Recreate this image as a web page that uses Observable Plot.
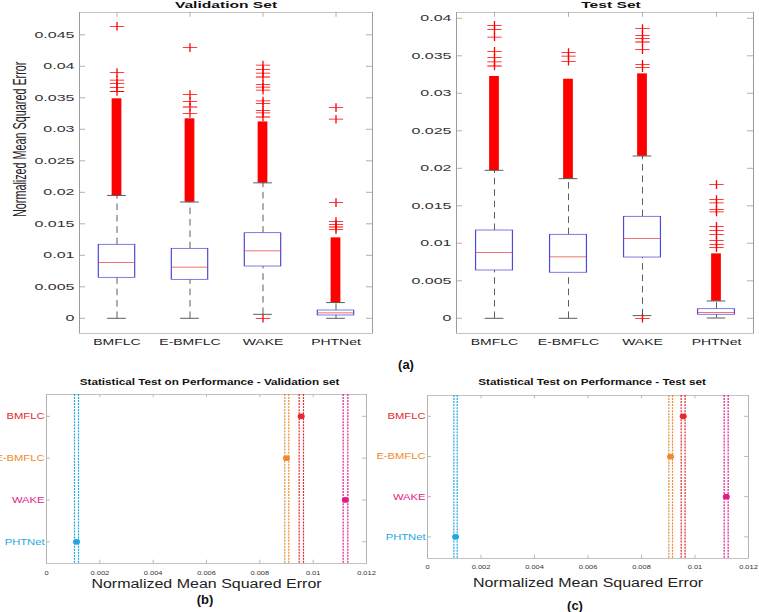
<!DOCTYPE html>
<html><head><meta charset="utf-8">
<script src="https://cdn.jsdelivr.net/npm/d3@7"></script>
<script src="https://cdn.jsdelivr.net/npm/@observablehq/plot@0.6"></script>
<style>
body{margin:0;background:#fff;}
#root{position:relative;width:759px;height:612px;overflow:hidden;background:#fff;font-family:"Liberation Sans",Arial,sans-serif;}
.panel{position:absolute;}
.panel svg{transform-origin:0 0;display:block;background:transparent;overflow:visible;}
.cap{position:absolute;font-weight:bold;font-size:13px;line-height:13px;color:#111;transform:translate(-50%,-50%);white-space:nowrap;}
</style></head><body><div id="root"></div><script>
// ---------- data ----------
const cats = ["BMFLC", "E-BMFLC", "WAKE", "PHTNet"];
const catColors = ["#e8262d", "#f08a2e", "#e21a8a", "#1ea7e1"];
const yLabelText = "Normalized Mean Squared Error";

// Validation set box plots
const valQ1 = [0.00646, 0.00614, 0.00825, 0.00048];
const valMedian = [0.00884, 0.00814, 0.01069, 0.00085];
const valQ3 = [0.0117, 0.01106, 0.01354, 0.00127];
const valWhiskerLo = [0, 0, 0.00063, 0];
const valWhiskerHi = [0.0195, 0.01846, 0.0215, 0.0025];
const valDenseTop = [0.03487, 0.0317, 0.0312, 0.0128];
const valOutliersBMFLC = [0.036, 0.0366, 0.03725, 0.0378, 0.039, 0.04635];
const valOutliersEBMFLC = [0.0325, 0.03354, 0.03444, 0.0355, 0.04296];
const valOutliersWAKE = [0, 0.03195, 0.0326, 0.033, 0.0341, 0.0345, 0.0362, 0.0367, 0.0371, 0.0383, 0.0389, 0.0395, 0.0402];
const valOutliersPHTNet = [0.01408, 0.01449, 0.01492, 0.01535, 0.01836, 0.0316, 0.03344];
const valYTicks = [0, 0.005, 0.01, 0.015, 0.02, 0.025, 0.03, 0.035, 0.04, 0.045];

// Test set box plots
const testQ1 = [0.0064, 0.0061, 0.00813, 0.0005];
const testMedian = [0.00876, 0.00818, 0.01062, 0.0008];
const testQ3 = [0.01173, 0.01116, 0.01356, 0.00124];
const testWhiskerLo = [0, 0, 0.00036, 0.00004];
const testWhiskerHi = [0.01973, 0.01862, 0.02164, 0.00231];
const testDenseTop = [0.03227, 0.0319, 0.03262, 0.00862];
const testOutliersBMFLC = [0.03364, 0.03418, 0.03476, 0.0356, 0.0375, 0.03853, 0.03905];
const testOutliersEBMFLC = [0.03427, 0.03497, 0.03542];
const testOutliersWAKE = [0, 0.03342, 0.03387, 0.03582, 0.03684, 0.0373, 0.03773, 0.03862];
const testOutliersPHTNet = [0.00943, 0.00987, 0.0104, 0.01116, 0.01173, 0.01227, 0.01418, 0.0145, 0.01538, 0.01582, 0.01782];
const testYTicks = [0, 0.005, 0.01, 0.015, 0.02, 0.025, 0.03, 0.035, 0.04];

// Statistical test (group means with comparison intervals)
const valMean = [0.00955, 0.009, 0.01121, 0.001125];
const valCILo = [0.009475, 0.008936, 0.011125, 0.00105];
const valCIHi = [0.009637, 0.009086, 0.0113, 0.0012];
const testMean = [0.00956, 0.009085, 0.01117, 0.00105];
const testCILo = [0.009484, 0.009023, 0.01109, 0.000987];
const testCIHi = [0.00963, 0.00916, 0.01124, 0.00111];
const statXTicks = [0, 0.002, 0.004, 0.006, 0.008, 0.01, 0.012];

// ---------- helpers ----------
const root = document.getElementById("root");
const fmt = d => String(+d.toFixed(4));
const font = "'Liberation Sans', Arial, Helvetica, sans-serif";

function addPanel(svg, left, top, width, s) {
  const d = document.createElement("div");
  d.className = "panel";
  d.style.left = left + "px";
  d.style.top = top + "px";
  d.style.width = width + "px";
  svg.style.transform = `scaleY(${s})`;
  d.appendChild(svg);
  root.appendChild(d);
}
function addCaption(text, x, y) {
  const d = document.createElement("div");
  d.className = "cap";
  d.textContent = text;
  d.style.left = x + "px";
  d.style.top = y + "px";
  root.appendChild(d);
}

function boxPlot({q1, med, q3, wlo, whi, dense, outs, yDomain, yTicks, title, width, marginLeft, marginRight, titleDx, yLabel}) {
  const s = 0.6, Hf = 360, Hu = Hf / s;
  const mt = 12 / s, mb = (Hf - 333) / s;
  const innerW = width - marginLeft - marginRight, innerH = Hu - mt - mb;
  const bw = innerW / 4;
  const rows = cats.map((c, i) => ({cat: c, q1: q1[i], med: med[i], q3: q3[i], lo: wlo[i], hi: whi[i], dense: dense[i]}));
  const outRows = cats.flatMap((c, i) => outs[i].map(v => ({cat: c, v})));
  const marks = [
    Plot.frame({stroke: "#9c9c9c"}),
    Plot.ruleY(yTicks, {y: d => d, insetRight: innerW - 6, stroke: "#9c9c9c"}),
    Plot.ruleY(yTicks, {y: d => d, insetLeft: innerW - 6, stroke: "#9c9c9c"}),
    Plot.ruleX(cats, {x: d => d, insetBottom: innerH - 8, stroke: "#9c9c9c"}),
    Plot.axisY(yTicks, {tickSize: 0, tickPadding: 5, tickFormat: fmt, fontSize: 16, color: "#333", label: null}),
    Plot.axisX({tickSize: 0, tickPadding: 10, fontSize: 14, color: "#222", label: null}),
    Plot.ruleX(rows, {x: "cat", y1: "q3", y2: "hi", stroke: "#333", strokeDasharray: "11,8"}),
    Plot.ruleX(rows, {x: "cat", y1: "lo", y2: "q1", stroke: "#333", strokeDasharray: "11,8"}),
    Plot.barY(rows, {x: "cat", y1: "hi", y2: "dense", insetLeft: (bw - 10) / 2, insetRight: (bw - 10) / 2, fill: "#ff0000"}),
    Plot.tickY(rows, {x: "cat", y: "hi", insetLeft: (bw - 19) / 2, insetRight: (bw - 19) / 2, stroke: "#333"}),
    Plot.tickY(rows, {x: "cat", y: "lo", insetLeft: (bw - 19) / 2, insetRight: (bw - 19) / 2, stroke: "#333"}),
    Plot.barY(rows, {x: "cat", y1: "q1", y2: "q3", insetLeft: bw * 0.25, insetRight: bw * 0.25, fill: "white", stroke: "#4b4bd6", strokeWidth: 1.2}),
    Plot.tickY(rows, {x: "cat", y: "med", insetLeft: bw * 0.25, insetRight: bw * 0.25, stroke: "#e84545", strokeWidth: 1.2}),
    Plot.dot(outRows, {x: "cat", y: "v", symbol: "plus", r: 4.7, stroke: "#ff0000", strokeWidth: 1.3}),
    Plot.text([title], {frameAnchor: "top", dx: titleDx, dy: -7.5, lineAnchor: "bottom", fontWeight: "bold", fontSize: 15.6, fill: "#111"})
  ];
  if (yLabel) marks.push(Plot.text([yLabelText], {frameAnchor: "left", textAnchor: "middle", lineAnchor: "middle", rotate: -90, dx: 20 - marginLeft, dy: (139 - 172.5) / s, fontSize: 18, fill: "#222"}));
  return Plot.plot({
    width, height: Hu, marginLeft, marginRight, marginTop: mt, marginBottom: mb,
    style: {fontFamily: font, background: "transparent", overflow: "visible"},
    x: {type: "band", domain: cats, padding: 0, axis: null},
    y: {domain: yDomain, axis: null},
    marks
  });
}

function statPlot({mean, lo, hi, title, width, marginLeft, marginRight, frameTop, frameBottom, titleDx, tickGap, labelGap}) {
  const s = 0.82, top0 = 370, Hf = 242, Hu = Hf / s;
  const mt = (frameTop - top0) / s, mb = (top0 + Hf - frameBottom) / s;
  const innerW = width - marginLeft - marginRight, innerH = Hu - mt - mb;
  const rows = cats.map((c, i) => ({cat: c, mean: mean[i], lo: lo[i], hi: hi[i], color: catColors[i]}));
  return Plot.plot({
    width, height: Hu, marginLeft, marginRight, marginTop: mt, marginBottom: mb,
    style: {fontFamily: font, background: "transparent", overflow: "visible"},
    x: {domain: [0, 0.012], axis: null},
    y: {type: "point", domain: cats, padding: 0.5, axis: null},
    color: {type: "identity"},
    marks: [
      Plot.frame({stroke: "#b4b4b4"}),
      Plot.ruleX(statXTicks, {x: d => d, insetBottom: innerH - 4, stroke: "#b4b4b4"}),
      Plot.ruleX(statXTicks, {x: d => d, insetTop: innerH - 4, stroke: "#b4b4b4"}),
      Plot.ruleY(cats, {y: d => d, insetRight: innerW - 4, stroke: "#b4b4b4"}),
      Plot.ruleY(cats, {y: d => d, insetLeft: innerW - 4, stroke: "#b4b4b4"}),
      Plot.ruleX(rows, {x: "lo", stroke: "color", strokeWidth: 1.2, strokeDasharray: "2.4,1.3"}),
      Plot.ruleX(rows, {x: "hi", stroke: "color", strokeWidth: 1.2, strokeDasharray: "2.4,1.3"}),
      Plot.dot(rows, {x: "mean", y: "cat", fill: "color", r: 3.5}),
      Plot.axisX(statXTicks, {tickSize: 0, tickPadding: tickGap / s - 2.7, tickFormat: fmt, fontSize: 7.5, color: "#333", label: null}),
      Plot.text(rows, {y: "cat", text: "cat", frameAnchor: "left", dx: -2, textAnchor: "end", fill: "color", fontSize: 11.2}),
      Plot.text([yLabelText], {frameAnchor: "bottom", lineAnchor: "middle", dy: labelGap / s, fontSize: 16, fill: "#222"}),
      Plot.text([title], {frameAnchor: "top", lineAnchor: "middle", dx: titleDx, dy: -(frameTop - 382) / s, fontWeight: "bold", fontSize: 11.7, fill: "#111"})
    ]
  });
}

// ---------- panels ----------
addPanel(boxPlot({
  q1: valQ1, med: valMedian, q3: valQ3, wlo: valWhiskerLo, whi: valWhiskerHi, dense: valDenseTop,
  outs: [valOutliersBMFLC, valOutliersEBMFLC, valOutliersWAKE, valOutliersPHTNet],
  yDomain: [-0.00238, 0.04857], yTicks: valYTicks, title: "Validation Set",
  width: 380, marginLeft: 79, marginRight: 8, titleDx: 0, yLabel: true
}), 0, 0, 380, 0.6);

addPanel(boxPlot({
  q1: testQ1, med: testMedian, q3: testQ3, wlo: testWhiskerLo, whi: testWhiskerHi, dense: testDenseTop,
  outs: [testOutliersBMFLC, testOutliersEBMFLC, testOutliersWAKE, testOutliersPHTNet],
  yDomain: [-0.002, 0.0408], yTicks: testYTicks, title: "Test Set",
  width: 379, marginLeft: 76, marginRight: 6, titleDx: 6, yLabel: false
}), 380, 0, 379, 0.6);

addPanel(statPlot({
  mean: valMean, lo: valCILo, hi: valCIHi, title: "Statistical Test on Performance - Validation set",
  width: 380, marginLeft: 46, marginRight: 14, frameTop: 394, frameBottom: 563, titleDx: 3, tickGap: 9, labelGap: 20
}), 0, 370, 380, 0.82);

addPanel(statPlot({
  mean: testMean, lo: testCILo, hi: testCIHi, title: "Statistical Test on Performance - Test set",
  width: 379, marginLeft: 47, marginRight: 11, frameTop: 395, frameBottom: 558, titleDx: 4, tickGap: 8, labelGap: 24
}), 380, 370, 379, 0.82);

addCaption("(a)", 406, 364);
addCaption("(b)", 205, 599);
addCaption("(c)", 575, 605);
</script></body></html>
